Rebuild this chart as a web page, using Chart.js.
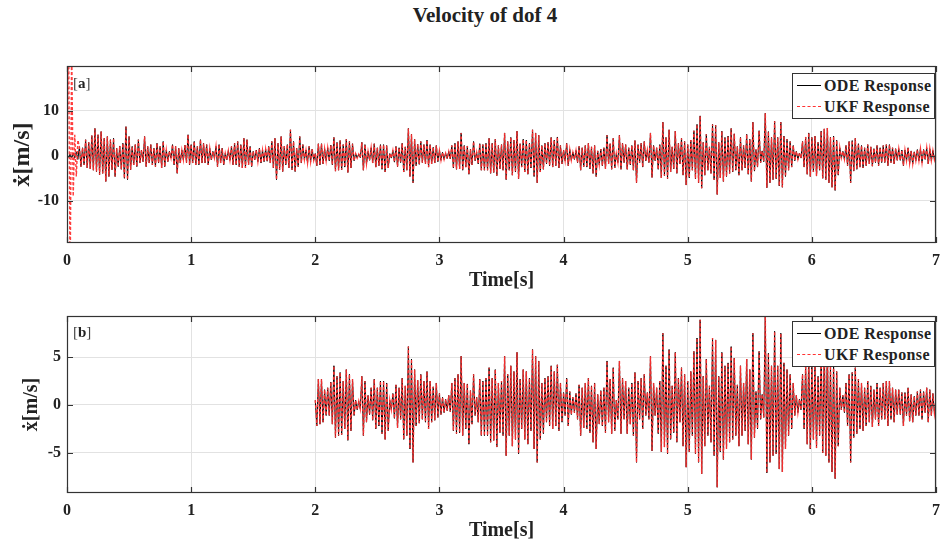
<!DOCTYPE html>
<html lang="en">
<head>
<meta charset="UTF-8" />
<title>Velocity of dof 4</title>
<script src="https://cdn.jsdelivr.net/npm/chart.js@4.4.0/dist/chart.umd.min.js"></script>
<style>
  body { margin: 0; background: #fff; width: 948px; height: 547px; position: relative; overflow: hidden;
         font-family: 'Liberation Serif', 'DejaVu Serif', serif; color: #222; }
  #title { position: absolute; left: 0; width: 970px; top: 3px; text-align: center; font-weight: bold; font-size: 21px; line-height: 24px; }
  .panel { position: absolute; left: 0; width: 948px; }
  #pa { top: 0; height: 300px; }
  #pb { top: 300px; height: 247px; }
  .tag { position: absolute; left: 73px; font-size: 15px; color: #444; }
  .tag b { color: #222; }
  .legend { position: absolute; left: 792px; width: 141px; border: 1px solid #333; background: #fff;
            font-weight: bold; font-size: 16px; letter-spacing: 0.4px; padding: 1px 0; }
  .legend div { display: flex; align-items: center; height: 21px; }
  .legend span { display: inline-block; width: 24px; margin: 0 3px 0 4px; border-top: 1px solid #000; }
  .legend span.dash { border-top: 1.5px dashed #ff3333; }
</style>
</head>
<body>
<div id="title">Velocity of dof 4</div>
<div class="panel" id="pa"><canvas id="chartA" width="948" height="300"></canvas></div>
<div class="panel" id="pb"><canvas id="chartB" width="948" height="247"></canvas></div>
<div class="tag" style="top:75px">[<b>a</b>]</div>
<div class="tag" style="top:324px">[<b>b</b>]</div>
<div class="legend" style="top:73px"><div><span></span>ODE Response</div><div><span class="dash"></span>UKF Response</div></div>
<div class="legend" style="top:321px"><div><span></span>ODE Response</div><div><span class="dash"></span>UKF Response</div></div>

<script>
// sample step of the velocity record [s]
const dt = 0.0125;

// ODE velocity of dof 4, one row per 0.1 s (alternating peaks/troughs)
const odeVel = [
  0.0, -0.3, 0.4, -0.4, 0.6, -0.5, 0.9, -0.8,
  2.0, -2.4, 1.8, -2.0, 3.6, -2.7, 3.0, -2.9,
  4.5, -3.2, 6.1, -3.5, 4.7, -4.2, 5.4, -3.9,
  3.9, -5.7, 4.3, -4.6, 3.6, -3.1, 3.9, -4.6,
  1.7, -2.4, 2.2, -3.0, 2.8, -5.0, 6.5, -5.3,
  4.3, -3.1, 2.1, -2.0, 2.5, -2.4, 3.6, -1.6,
  1.3, -1.3, 4.3, -2.4, 2.1, -1.6, 2.5, -2.0,
  1.7, -2.4, 2.8, -1.6, 2.1, -2.7, 3.2, -2.4,
  1.3, -1.3, 1.0, -0.5, 2.5, -2.0, 2.1, -3.9,
  1.7, -1.6, 1.3, -0.9, 2.4, -1.5, 4.7, -2.0,
  2.5, -1.6, 3.2, -2.0, 2.1, -2.0, 3.6, -1.6,   // 1.0 s
  2.8, -1.6, 2.5, -2.0, 1.7, -0.9, 1.0, -0.5,
  2.1, -2.4, 2.5, -1.6, 1.7, -2.0, 0.6, -0.9,
  1.2, -1.0, 2.1, -2.0, 2.8, -2.0, 3.2, -2.4,
  2.5, -2.7, 3.9, -2.7, 3.6, -2.0, 2.1, -2.4,
  1.0, -0.9, 1.3, -1.3, 1.7, -1.6, 1.3, -1.3,
  1.5, -1.2, 2.1, -1.6, 3.2, -2.7, 3.9, -5.3,
  2.8, -3.1, 4.3, -3.5, 2.1, -2.0, 2.5, -2.7,
  5.8, -3.1, 3.2, -3.5, 1.7, -2.4, 4.3, -1.6,
  2.5, -0.9, 1.3, -1.6, 2.1, -1.3, 1.5, -1.0,
  0.5, -2.2, 2.7, -2.0, 2.7, -1.8, 1.6, -1.1,   // 2.0 s
  1.8, -1.1, 2.4, -2.0, 4.1, -3.4, 3.0, -3.2,
  3.4, -3.1, 2.5, -2.5, 3.7, -3.7, 3.2, -2.7,
  2.7, -1.1, 0.5, -0.5, 0.4, -0.4, 3.0, -3.2,
  2.5, -1.8, 1.0, -1.0, 1.8, -1.6, 2.7, -2.5,
  1.8, -2.2, 2.5, -3.0, 2.5, -3.6, 2.3, -2.7,
  0.5, -0.5, 1.2, -1.4, 2.1, -2.4, 1.8, -1.5,
  2.8, -3.6, 2.0, -3.2, 6.1, -4.6, 4.8, -6.0,
  3.7, -2.2, 2.6, -1.9, 3.2, -1.5, 2.5, -1.8,
  3.5, -2.5, 2.5, -1.8, 1.9, -1.6, 2.3, -1.3,
  1.2, -1.0, 0.8, -0.8, 0.6, -0.6, 1.0, -0.7,   // 3.0 s
  2.3, -2.7, 2.8, -3.0, 3.2, -2.9, 5.1, -3.2,
  2.3, -2.5, 2.2, -4.1, 1.5, -2.0, 3.2, -1.1,
  0.8, -1.8, 2.7, -3.2, 2.5, -3.2, 2.8, -3.2,
  3.9, -3.9, 2.8, -3.7, 3.7, -4.4, 2.3, -2.9,
  2.5, -3.2, 5.1, -5.3, 3.2, -3.2, 4.1, -4.3,
  3.5, -3.6, 5.5, -5.1, 2.7, -2.5, 3.7, -3.6,
  3.5, -4.1, 2.8, -2.7, 5.8, -4.6, 5.1, -6.0,
  4.6, -3.6, 2.3, -3.0, 2.8, -1.8, 3.0, -2.2,
  4.1, -2.5, 3.5, -2.2, 4.2, -2.7, 2.3, -1.8,
  1.3, -1.1, 2.8, -2.2, 1.4, -1.0, 0.8, -0.8,   // 4.0 s
  1.2, -1.5, 2.1, -3.2, 1.8, -2.4, 2.3, -2.5,
  2.8, -2.9, 2.0, -3.9, 2.3, -4.6, 1.1, -2.0,
  1.5, -2.2, 1.8, -2.9, 4.6, -1.8, 2.7, -3.0,
  3.9, -2.7, 0.5, -1.5, 4.6, -3.0, 2.8, -1.5,
  2.5, -3.0, 1.8, -2.0, 2.3, -3.2, 3.4, -6.0,
  2.5, -1.5, 2.8, -2.5, 3.2, -1.1, 1.3, -1.5,
  5.1, -4.8, 2.3, -1.1, 1.8, -3.0, 2.5, -4.9,
  7.5, -4.4, 4.1, -5.1, 5.8, -3.6, 2.0, -2.9,
  5.5, -3.9, 2.8, -1.8, 3.9, -4.3, 3.2, -6.5,
  2.5, -4.9, 3.5, -3.2, 5.6, -5.1, 7.0, -6.0,   // 5.0 s
  8.9, -7.2, 3.0, -4.3, 4.8, -3.2, 2.0, -3.9,
  7.0, -5.3, 6.8, -8.6, 3.0, -4.9, 5.5, -5.7,
  4.1, -4.6, 4.4, -3.9, 6.1, -3.6, 4.9, -3.2,
  2.1, -4.3, 4.1, -3.2, 2.3, -2.7, 4.8, -4.1,
  3.7, -5.7, 7.5, -3.4, 1.4, -2.5, 5.6, -1.5,
  1.1, -1.3, 9.5, -7.1, 5.4, -6.0, 4.1, -5.3,
  7.7, -5.1, 4.1, -6.7, 7.5, -7.0, 4.4, -4.6,
  3.7, -3.2, 3.2, -2.5, 2.3, -1.1, 1.0, -0.8,
  0.6, -0.5, 3.2, -2.5, 4.2, -4.1, 5.1, -4.6,
  4.1, -3.6, 4.4, -4.5, 3.0, -3.2, 5.5, -5.0,   // 6.0 s
  6.0, -5.3, 6.2, -6.0, 4.1, -7.0, 4.4, -7.7,
  3.5, -4.3, 1.8, -0.5, 1.0, -0.8, 2.3, -2.2,
  3.2, -6.0, 3.4, -3.4, 3.9, -3.0, 2.7, -2.5,
  2.3, -2.7, 1.8, -2.2, 2.5, -1.8, 2.0, -2.3,
  1.6, -1.5, 2.3, -2.2, 1.8, -1.5, 2.3, -1.5,
  2.5, -2.2, 2.5, -1.5, 1.8, -1.8, 1.6, -1.0,
  1.6, -1.0, 1.3, -2.2, 1.3, -1.1, 1.8, -1.7,
  1.1, -1.8, 0.9, -1.1, 1.4, -1.1, 1.6, -1.5,
  1.4, -0.8, 1.8, -1.8, 1.6, -1.1, 1.2, -0.9,
  0.4
];

// UKF estimate during its start-up transient; afterwards it follows the ODE
const ukfStart = [0, 30, -30, 25, -9, 4.7, -4.6, 3.5];

const xTicks = [0, 1, 2, 3, 4, 5, 6, 7];
const yTicksA = [-10, 0, 10];
const yTicksB = [-5, 0, 5];

const ode = odeVel.map((v, i) => ({ x: i * dt, y: v }));
const ukf = odeVel.map((v, i) => ({ x: i * dt, y: i < ukfStart.length ? ukfStart[i] : v }));

const serif = "'Liberation Serif', 'DejaVu Serif', serif";
const tickFont = { family: serif, size: 16, weight: 'bold' };

// MATLAB style frame with inward ticks
const boxPlugin = {
  id: 'box',
  afterDatasetsDraw(chart) {
    const { ctx, chartArea: a, scales: { x, y } } = chart;
    ctx.save();
    ctx.strokeStyle = '#333';
    ctx.lineWidth = 1.2;
    ctx.strokeRect(a.left + 0.5, a.top + 0.5, a.width - 1, a.height - 1);
    ctx.beginPath();
    x.ticks.forEach(t => {
      const px = Math.round(x.getPixelForValue(t.value)) + 0.5;
      ctx.moveTo(px, a.bottom); ctx.lineTo(px, a.bottom - 6);
      ctx.moveTo(px, a.top); ctx.lineTo(px, a.top + 6);
    });
    y.ticks.forEach(t => {
      const py = Math.round(y.getPixelForValue(t.value)) + 0.5;
      ctx.moveTo(a.left, py); ctx.lineTo(a.left + 6, py);
      ctx.moveTo(a.right, py); ctx.lineTo(a.right - 6, py);
    });
    ctx.stroke();
    ctx.restore();
  }
};

function makeChart(id, opt) {
  return new Chart(document.getElementById(id), {
    type: 'line',
    data: {
      datasets: [
        { label: 'ODE Response', data: opt.ode, borderColor: '#000', borderWidth: 1, order: 2 },
        { label: 'UKF Response', data: opt.ukf, borderColor: 'rgba(255,50,50,0.95)', borderWidth: 1.4,
          borderDash: [3, 2], order: 1 }
      ]
    },
    options: {
      responsive: false,
      animation: false,
      parsing: false,
      normalized: true,
      elements: { point: { radius: 0 }, line: { tension: 0 } },
      layout: { padding: { top: opt.top, right: 6, left: 0, bottom: 0 } },
      plugins: { legend: { display: false }, tooltip: { enabled: false } },
      scales: {
        x: {
          type: 'linear', min: 0, max: 7,
          afterBuildTicks: s => { s.ticks = xTicks.map(v => ({ value: v })); },
          afterFit: s => { s.height = opt.xH; },
          grid: { color: '#e2e2e2', drawTicks: false },
          border: { display: false },
          ticks: { padding: 8, font: tickFont, color: '#222' },
          title: { display: true, text: 'Time[s]', color: '#222',
                   font: { family: serif, size: 20, weight: 'bold' }, padding: { top: 0, bottom: opt.xTitlePad } }
        },
        y: {
          min: opt.yMin, max: opt.yMax,
          afterBuildTicks: s => { s.ticks = opt.yTicks.map(v => ({ value: v })); },
          afterFit: s => { s.width = 67; },
          grid: { color: '#e2e2e2', drawTicks: false },
          border: { display: false },
          ticks: { padding: opt.yTickPad, font: tickFont, color: '#222' },
          title: { display: true, text: 'ẋ[m/s]', color: '#222',
                   font: { family: serif, size: opt.yTitleSize, weight: 'bold' }, padding: { top: opt.yTitlePad, bottom: 0 } }
        }
      }
    },
    plugins: [boxPlugin]
  });
}

makeChart('chartA', {
  ode: ode, ukf: ukf, top: 66, xH: 57, xTitlePad: 7,
  yMin: -19.4, yMax: 20, yTicks: yTicksA, yTickPad: 8, yTitleSize: 24, yTitlePad: 8
});

makeChart('chartB', {
  ode: ode.filter(p => p.x >= 2 - 1e-9), ukf: ukf.filter(p => p.x >= 2 - 1e-9),
  top: 16, xH: 54, xTitlePad: 4,
  yMin: -9.2, yMax: 9.3, yTicks: yTicksB, yTickPad: 6, yTitleSize: 20, yTitlePad: 20
});
</script>
</body>
</html>
